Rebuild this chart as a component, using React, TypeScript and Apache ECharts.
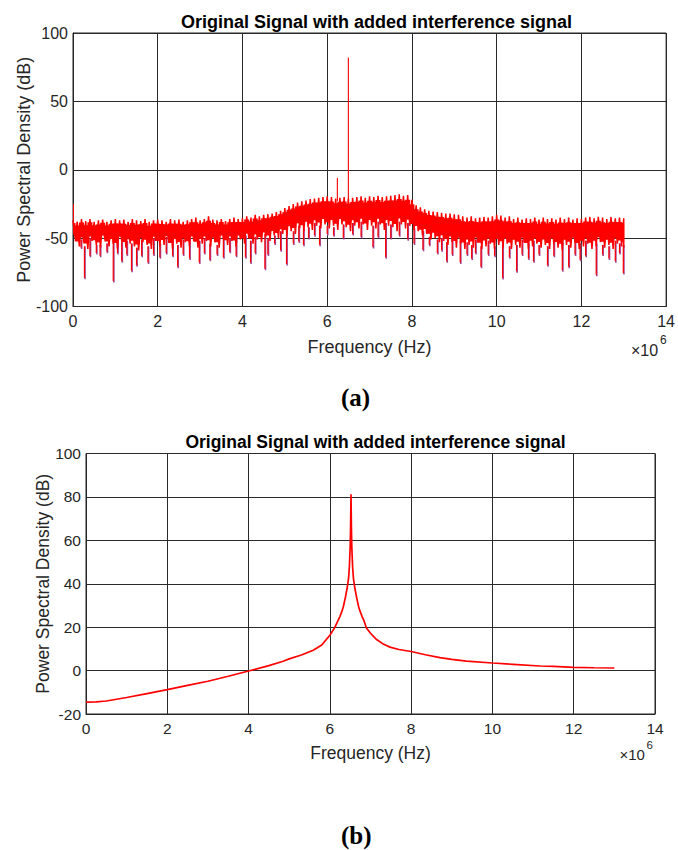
import React, { useEffect, useRef } from "react";
import * as echarts from "echarts";

const FONT = '"Liberation Sans", Arial, Helvetica, sans-serif';
const SERIF = '"Liberation Serif", "Times New Roman", serif';
const TITLE = "Original Signal with added interference signal";
const X_NAME = "Frequency (Hz)";
const Y_NAME = "Power Spectral Density (dB)";

// ---- (a) noisy spectrum, in MHz (axis scaled x10^6) ----
const BIN_A = 0.1; // bin width in MHz, bins start at 0
const BAND_TOP_A = [
  -37, -38, -36, -37.5, -36, -38, -37, -36.5, -38, -37, -36,
  -37, -36.5, -38, -36, -37, -37.5, -36, -38, -37, -36.5,
  -37, -38, -36, -37, -36.5, -38, -37, -36, -35, -37,
  -36, -34, -36.5, -37, -36, -37.5, -36, -35, -36, -35.5,
  -34, -35, -33, -34, -33, -32.5, -32, -31, -30, -28,
  -26.5, -25, -24, -23, -22.5, -21.5, -21, -20.5, -20, -19.5,
  -20, -21, -20.5, -20, -21, -20.5, -20, -19.5, -20.5, -19.5,
  -20, -19, -20, -19.5, -19, -18.5, -18, -19, -18.5, -22,
  -26, -27.5, -29, -30, -30.5, -31, -31.5, -32, -32, -32.5,
  -33, -34, -35, -34, -35.5, -35, -34.5, -35, -34, -33,
  -33.5, -35, -34, -36, -35, -36.5, -35.5, -36, -35, -36.5,
  -35, -36, -35.5, -36.5, -35, -36, -35, -36.5, -35.5, -36,
  -35, -34.5, -35.5, -34.5, -35, -36, -34.5, -35.5, -35, -35.5,
];
const BAND_BOTTOM_A = [
  -50, -56, -53, -58, -52, -55, -57, -51, -56, -54, -58,
  -52, -57, -54, -56, -59, -53, -55, -58, -52, -56,
  -55, -51, -58, -54, -57, -53, -56, -52, -57, -54,
  -52, -56, -53, -57, -51, -55, -52, -56, -51, -54,
  -50, -54, -51, -53, -49, -52, -48, -50, -47, -48,
  -45, -47, -43, -45, -42, -44, -41, -43, -40, -43,
  -41, -44, -40, -42, -45, -41, -43, -40, -44, -41,
  -43, -40, -44, -41, -42, -45, -40, -43, -41, -44,
  -45, -48, -47, -51, -50, -53, -52, -55, -53, -57,
  -54, -58, -55, -57, -53, -58, -56, -54, -58, -55,
  -57, -54, -58, -55, -57, -53, -58, -56, -54, -57,
  -55, -58, -54, -57, -59, -55, -57, -53, -58, -56,
  -54, -58, -56, -53, -57, -55, -58, -54, -56, -57,
];
// downward spikes: [MHz, dB]
const SPIKES_DOWN_A = [
  [0.19, -58], [0.27, -80], [0.4, -64], [0.55, -62], [0.64, -64], [0.8, -61], [0.95, -82.5],
  [1.05, -62], [1.15, -68], [1.27, -63], [1.38, -75], [1.5, -71], [1.62, -64], [1.77, -69],
  [1.9, -63], [2.05, -65], [2.2, -62], [2.35, -64], [2.47, -72], [2.6, -63], [2.75, -66],
  [2.98, -69], [3.1, -62], [3.23, -67], [3.4, -63], [3.55, -65], [3.7, -61], [3.85, -64],
  [4.07, -65], [4.19, -69], [4.3, -62], [4.53, -73.5], [4.6, -63], [4.76, -55], [4.9, -60],
  [5.04, -70], [5.2, -55], [5.33, -53.5], [5.44, -56], [5.56, -51], [5.7, -49], [5.82, -56],
  [6.0, -48], [6.15, -49], [6.38, -51], [6.6, -48], [6.8, -50], [7.08, -57.5], [7.2, -50],
  [7.38, -65], [7.5, -51], [7.7, -49], [7.9, -52], [8.05, -55], [8.26, -59.6], [8.41, -56],
  [8.6, -62], [8.7, -60], [8.82, -68], [8.95, -63], [9.14, -69], [9.3, -63], [9.41, -66],
  [9.5, -62], [9.63, -72], [9.8, -63], [9.95, -64], [10.14, -80.3], [10.3, -65], [10.47, -75.4],
  [10.6, -63], [10.75, -66], [10.87, -68], [11.0, -63], [11.2, -71], [11.35, -64], [11.55, -74.5],
  [11.7, -72], [11.85, -63], [11.97, -67], [12.1, -64], [12.35, -77.9], [12.5, -63], [12.65, -66],
  [12.8, -68], [12.9, -62], [12.99, -76.6],
];
// upward spikes: [MHz, dB]
const SPIKES_UP_A = [[0.01, -25], [6.24, -6], [6.5, 82]];

// ---- (b) smoothed spectrum ----
const FREQ_B = [
  0, 0.25, 0.5, 0.75, 1.0, 1.5, 2.0, 2.5, 3.0, 3.5, 4.0, 4.5, 4.85, 5.0, 5.3, 5.59, 5.8,
  6.0, 6.12, 6.2, 6.25, 6.3, 6.33, 6.38, 6.43, 6.46, 6.48, 6.5, 6.51, 6.52,
  6.53, 6.54, 6.56, 6.58, 6.61, 6.66, 6.71, 6.74, 6.79, 6.84, 6.9,
  7.0, 7.15, 7.3, 7.48, 7.7, 8.0, 8.35, 8.71, 9.0, 9.36, 10.0, 10.5, 11.17, 11.5, 12.0, 12.5, 13.0,
];
const PSD_B = [
  -14.5, -14.4, -14.0, -13.2, -12.4, -10.6, -8.8, -6.8, -4.9, -2.6, -0.2, 2.3, 4.3, 5.4, 7.2, 9.4, 11.8,
  16.3, 19.8, 23.0, 25.0, 27.5, 29.3, 33.5, 38.5, 42.5, 47.7, 57, 66, 81.2,
  66, 57, 47.7, 42.5, 38.5, 33.5, 29.3, 27.5, 25.0, 23.0, 19.6,
  17.2, 14.3, 12.4, 10.8, 9.7, 8.8, 7.3, 6.0, 5.2, 4.4, 3.5, 2.9, 2.1, 1.9, 1.5, 1.3, 1.2,
];

const X_TICK_MIN = 0, X_TICK_MAX = 14, X_TICK_STEP = 2;

function buildOption() {
  const nBins = BAND_TOP_A.length;
  const bandData = BAND_TOP_A.map((t, i) => [i * BIN_A, t, BAND_BOTTOM_A[i]]);
  const lastF = (nBins - 1) * BIN_A;
  const binIdx = (f: number) => Math.max(0, Math.min(nBins - 1, Math.round(f / BIN_A)));
  const downData = SPIKES_DOWN_A.map(([f, v]) => [f, BAND_BOTTOM_A[binIdx(f)] + 2, v]);
  const upData = SPIKES_UP_A.map(([f, v]) => [f, BAND_TOP_A[binIdx(f)] - 2, v]);
  // zig-zag outline through the band's tops and bottoms
  const zig: number[][] = [];
  BAND_TOP_A.forEach((t, i) => {
    zig.push([i * BIN_A, t]);
    if (i < nBins - 1) zig.push([i * BIN_A + BIN_A / 2, BAND_BOTTOM_A[i]]);
    else zig.push([i * BIN_A, BAND_BOTTOM_A[i]]);
  });
  const lineB = FREQ_B.map((f, i) => [f, PSD_B[i]]);

  const axisColor = "#262626";
  const mkX = (gi: number, fs: number, nfs: number, margin: number, gap: number) => ({
    gridIndex: gi,
    type: "value",
    min: X_TICK_MIN,
    max: X_TICK_MAX,
    interval: X_TICK_STEP,
    name: X_NAME,
    nameLocation: "middle",
    nameGap: gap,
    nameMoveOverlap: false,
    nameTextStyle: { fontSize: nfs, color: axisColor, fontFamily: FONT },
    axisLine: { show: true, onZero: false, lineStyle: { color: axisColor, width: 1 } },
    axisTick: { show: false },
    axisLabel: { fontSize: fs, color: axisColor, margin, fontFamily: FONT },
    splitLine: { show: true, lineStyle: { color: "#2a2a2a", width: 1 } },
  });
  const mkY = (gi: number, min: number, max: number, step: number, fs: number, nfs: number, gap: number) => ({
    gridIndex: gi,
    type: "value",
    min,
    max,
    interval: step,
    name: Y_NAME,
    nameLocation: "middle",
    nameGap: gap,
    nameMoveOverlap: false,
    nameRotate: 90,
    nameTextStyle: { fontSize: nfs, color: axisColor, fontFamily: FONT },
    axisLine: { show: true, onZero: false, lineStyle: { color: axisColor, width: 1 } },
    axisTick: { show: false },
    axisLabel: { fontSize: fs, color: axisColor, margin: 5, fontFamily: FONT },
    splitLine: { show: true, lineStyle: { color: "#2a2a2a", width: 1 } },
  });

  return {
    animation: false,
    backgroundColor: "#ffffff",
    title: [
      {
        text: TITLE,
        left: 371.5,
        top: 8,
        textAlign: "center",
        textStyle: { fontSize: 18, fontWeight: "bold", color: "#000", fontFamily: FONT },
      },
      {
        text: TITLE,
        left: 370.5,
        top: 428,
        textAlign: "center",
        textStyle: { fontSize: 17.5, fontWeight: "bold", color: "#000", fontFamily: FONT },
      },
    ],
    grid: [
      { left: 73, top: 33, width: 597, height: 273.5, show: true, borderColor: axisColor, borderWidth: 1 },
      { left: 86, top: 453.5, width: 569, height: 260.5, show: true, borderColor: axisColor, borderWidth: 1 },
    ],
    xAxis: [mkX(0, 16, 18, 7, 31), mkX(1, 15.5, 17.5, 6, 30)],
    yAxis: [mkY(0, -100, 100, 50, 16, 18, 40), mkY(1, -20, 100, 20, 15.5, 17.5, 34)],
    series: [
      {
        type: "custom",
        xAxisIndex: 0,
        yAxisIndex: 0,
        clip: true,
        data: downData,
        renderItem: (_p: any, api: any) => {
          const f = api.value(0);
          const a = api.coord([f, api.value(1)]);
          const b = api.coord([f, api.value(2)]);
          return {
            type: "group",
            children: [
              { type: "line", shape: { x1: a[0] + 0.6, y1: a[1], x2: b[0] + 0.6, y2: b[1] }, style: { stroke: "#a0469a", lineWidth: 1.6 } },
              { type: "line", shape: { x1: a[0], y1: a[1], x2: b[0], y2: b[1] - 1.5 }, style: { stroke: "#ff0000", lineWidth: 1.2 } },
            ],
          };
        },
      },
      {
        type: "custom",
        xAxisIndex: 0,
        yAxisIndex: 0,
        clip: true,
        data: bandData,
        renderItem: (_p: any, api: any) => {
          const f = api.value(0);
          const t = api.value(1);
          const b = api.value(2);
          const h = t - b;
          const p0 = api.coord([Math.max(0, f - BIN_A / 2), t - h * 0.15]);
          const p1 = api.coord([Math.min(lastF, f + BIN_A / 2), b + h * 0.2]);
          return {
            type: "rect",
            shape: { x: p0[0] - 0.4, y: p0[1], width: p1[0] - p0[0] + 0.8, height: p1[1] - p0[1] },
            style: { fill: "#ff0000" },
          };
        },
      },
      {
        type: "line",
        xAxisIndex: 0,
        yAxisIndex: 0,
        data: zig,
        showSymbol: false,
        symbol: "none",
        lineStyle: { color: "#ff0000", width: 1.5 },
      },
      {
        type: "custom",
        xAxisIndex: 0,
        yAxisIndex: 0,
        clip: true,
        data: upData,
        renderItem: (_p: any, api: any) => {
          const f = api.value(0);
          const a = api.coord([f, api.value(1)]);
          const b = api.coord([f, api.value(2)]);
          return {
            type: "line",
            shape: { x1: a[0], y1: a[1], x2: b[0], y2: b[1] },
            style: { stroke: "#ff0000", lineWidth: 1.1 },
          };
        },
      },
      {
        type: "line",
        xAxisIndex: 1,
        yAxisIndex: 1,
        data: lineB,
        showSymbol: false,
        symbol: "none",
        lineStyle: { color: "#ff0000", width: 1.7 },
      },
    ],
    graphic: [
      { type: "text", left: 631, top: 342, style: { text: "×10", fontSize: 16, fill: axisColor, fontFamily: FONT } },
      { type: "text", left: 660, top: 334, style: { text: "6", fontSize: 12, fill: axisColor, fontFamily: FONT } },
      { type: "text", left: 619.5, top: 747, style: { text: "×10", fontSize: 15, fill: axisColor, fontFamily: FONT } },
      { type: "text", left: 646.5, top: 739, style: { text: "6", fontSize: 11.5, fill: axisColor, fontFamily: FONT } },
      { type: "text", left: 341, top: 385, style: { text: "(a)", fontSize: 25, fontWeight: "bold", fill: "#000", fontFamily: SERIF } },
      { type: "text", left: 341, top: 823, style: { text: "(b)", fontSize: 25, fontWeight: "bold", fill: "#000", fontFamily: SERIF } },
    ],
  };
}

export default function App() {
  const ref = useRef<HTMLDivElement>(null);
  useEffect(() => {
    if (!ref.current) return;
    const chart = echarts.init(ref.current, null, { renderer: "svg" });
    chart.setOption(buildOption() as any);
    return () => chart.dispose();
  }, []);
  return (
    <div
      ref={ref}
      style={{ position: "fixed", left: 0, top: 0, width: 678, height: 850, background: "#fff" }}
    />
  );
}
